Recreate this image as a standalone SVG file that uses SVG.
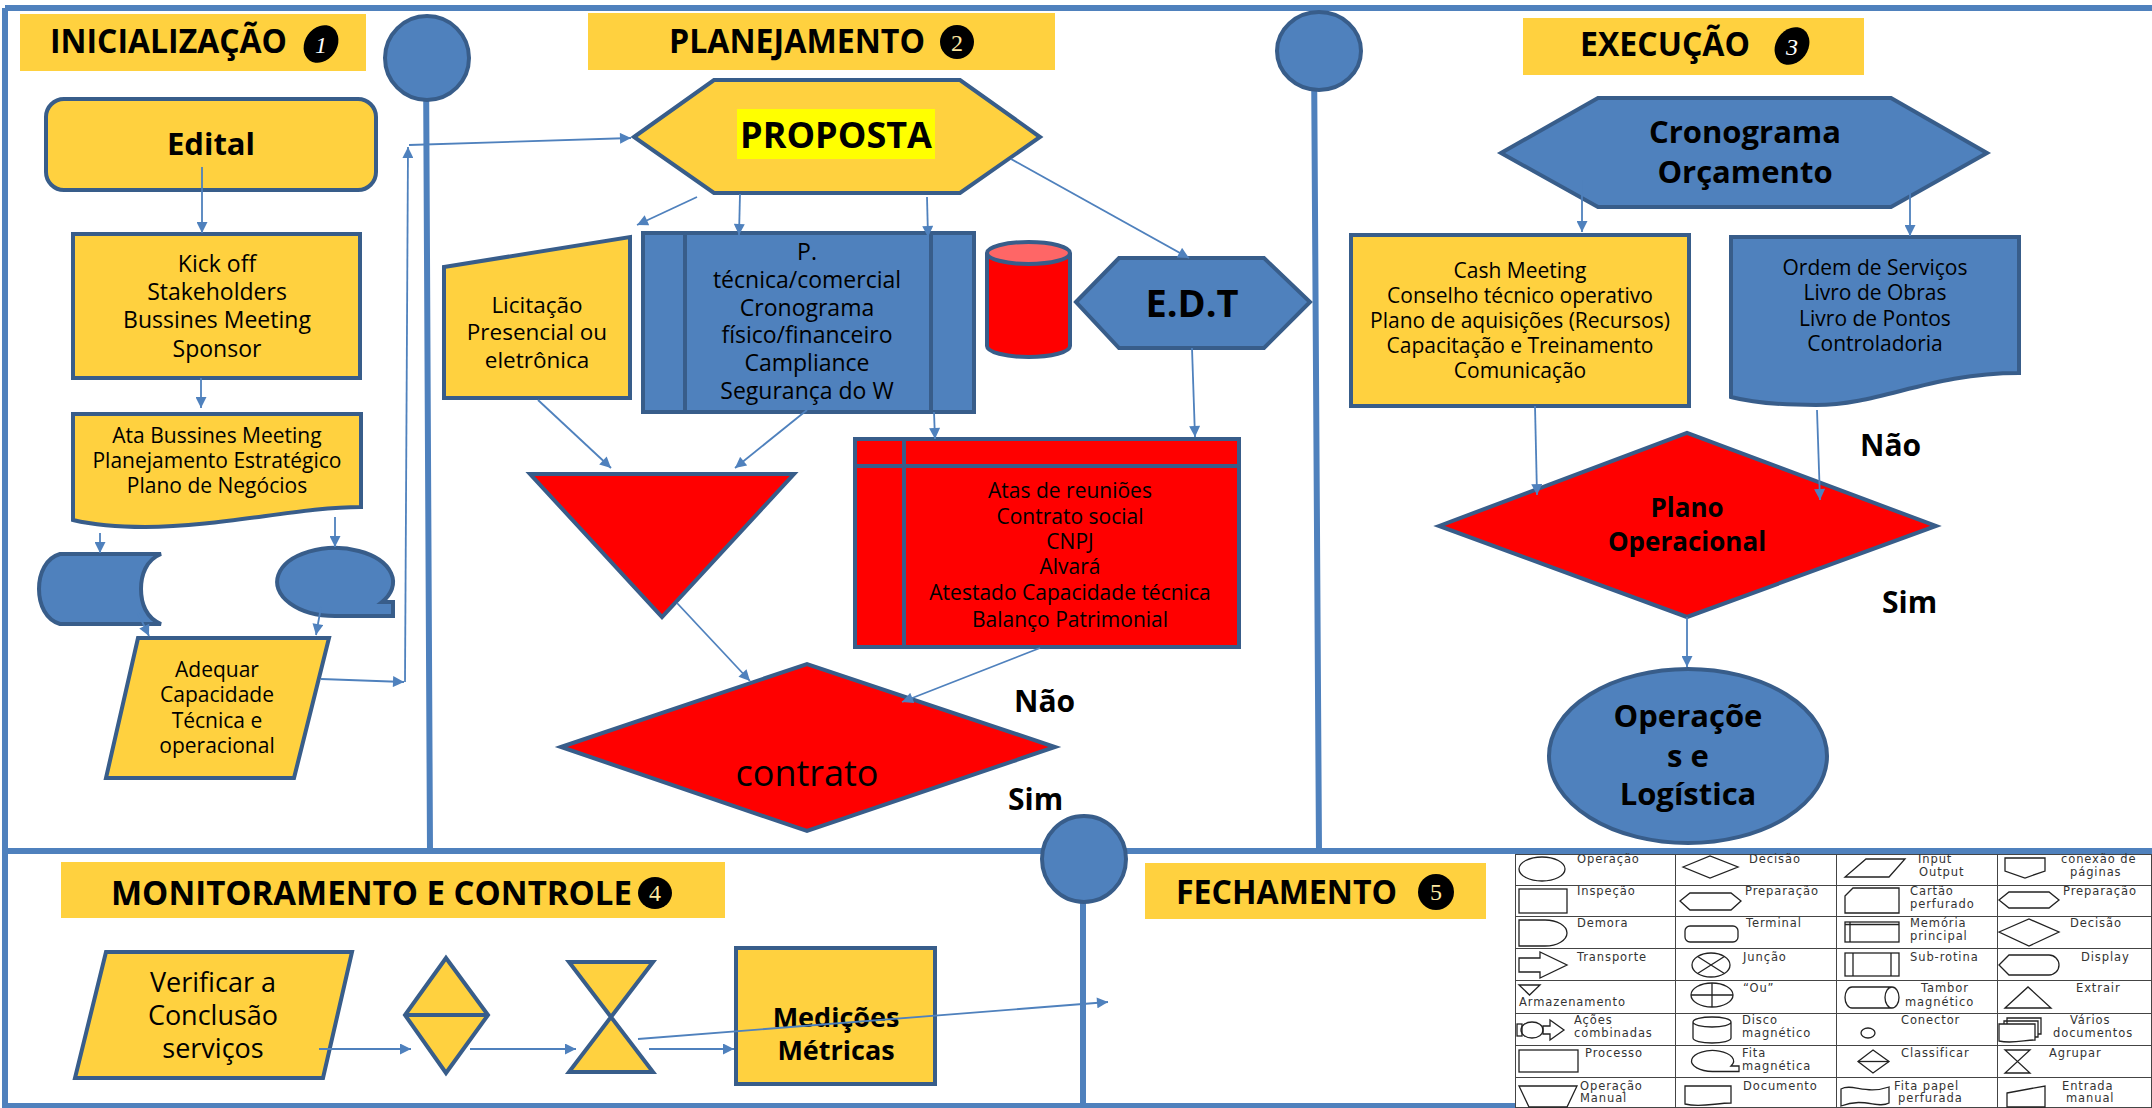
<svg xmlns="http://www.w3.org/2000/svg" width="2152" height="1108" viewBox="0 0 2152 1108">
<style>
.fr{stroke:#4F81BD;stroke-width:6;fill:none}
.cn{stroke:#4F81BD;stroke-width:1.8;fill:none;marker-end:url(#ah)}
.y{fill:#FFD13F;stroke:#385D8A;stroke-width:4}
.b{fill:#4F81BD;stroke:#385D8A;stroke-width:4}
.r{fill:#FF0000;stroke:#385D8A;stroke-width:4}
.ln{fill:none;stroke:#385D8A;stroke-width:4}
.ban{fill:#FFD13F}
.t{font-family:'Open Sans','Liberation Sans',sans-serif;fill:#000;text-anchor:middle}
.tl{font-family:'Open Sans','Liberation Sans',sans-serif;fill:#000}
.bd{font-weight:bold}
.ttl{font-family:'Open Sans','Liberation Sans',sans-serif;fill:#000;font-weight:bold;font-size:34px}
.num{font-family:'Liberation Serif',serif;text-anchor:middle;font-size:24px}
.lg text{font-family:'DejaVu Sans',sans-serif;font-size:11.5px;letter-spacing:0.9px;fill:#333}
.sym{fill:none;stroke:#222;stroke-width:1.3}
.grid{fill:none;stroke:#444;stroke-width:1}
</style>
<defs>
<marker id="ah" viewBox="0 0 10 10" refX="10" refY="5" markerWidth="12" markerHeight="11" markerUnits="userSpaceOnUse" orient="auto"><path d="M0,0 L10,5 L0,10 z" fill="#4F81BD"/></marker>
</defs>
<rect x="0" y="0" width="2152" height="1108" fill="#fff"/>

<g id="frame">
<path class="fr" d="M5,8 H2152 M5,8 V1108 M5,851 H2152 M5,1106 H1515"/>
<path class="fr" d="M426,58 L430,851 M1314,51 L1319,851 M1083,859 V1108"/>
<ellipse class="b" cx="427" cy="58" rx="42" ry="42"/>
<ellipse class="b" cx="1319" cy="51" rx="42" ry="39"/>
<ellipse class="b" cx="1084" cy="859" rx="42" ry="43"/>
</g>

<g id="banner-inicializacao">
<rect class="ban" x="20" y="14" width="346" height="57"/>
<text class="ttl" x="50" y="53" textLength="237" lengthAdjust="spacingAndGlyphs">INICIALIZAÇÃO</text>
<ellipse cx="321" cy="44" rx="16" ry="20" transform="rotate(35 321 44)" fill="#000"/>
<text class="num" x="321" y="53" fill="#fff" font-style="italic">1</text>
</g>
<g id="banner-planejamento">
<rect class="ban" x="588" y="13" width="467" height="57"/>
<text class="ttl" x="669" y="53" textLength="256" lengthAdjust="spacingAndGlyphs">PLANEJAMENTO</text>
<circle cx="957" cy="42" r="17" fill="#000"/>
<text class="num" x="957" y="51" fill="#FFE9A0">2</text>
</g>
<g id="banner-execucao">
<rect class="ban" x="1523" y="18" width="341" height="57"/>
<text class="ttl" x="1580" y="56" textLength="170" lengthAdjust="spacingAndGlyphs">EXECUÇÃO</text>
<ellipse cx="1792" cy="46" rx="16" ry="20" transform="rotate(35 1792 46)" fill="#000"/>
<text class="num" x="1792" y="55" fill="#fff" font-style="italic">3</text>
</g>
<g id="banner-monitoramento">
<rect class="ban" x="61" y="862" width="664" height="56"/>
<text class="ttl" x="111" y="905" textLength="521" lengthAdjust="spacingAndGlyphs">MONITORAMENTO E CONTROLE</text>
<ellipse cx="655" cy="893" rx="17" ry="16" fill="#000"/>
<text class="num" x="655" y="901" fill="#FFE9A0" font-size="22">4</text>
</g>
<g id="banner-fechamento">
<rect class="ban" x="1145" y="863" width="341" height="56"/>
<text class="ttl" x="1176" y="904" textLength="221" lengthAdjust="spacingAndGlyphs">FECHAMENTO</text>
<circle cx="1436" cy="892" r="18" fill="#000"/>
<text class="num" x="1436" y="900" fill="#FFE9A0" font-size="23" font-family="'Liberation Sans',sans-serif">5</text>
</g>

<g id="edital">
<rect class="y" x="46" y="99" width="330" height="91" rx="18"/>
<text class="t bd" x="211" y="155" font-size="31">Edital</text>
</g>
<g id="kickoff">
<rect class="y" x="73" y="234" width="287" height="144"/>
<text class="t" font-size="23"><tspan x="217" y="272">Kick off</tspan><tspan x="217" y="300">Stakeholders</tspan><tspan x="217" y="328">Bussines Meeting</tspan><tspan x="217" y="357">Sponsor</tspan></text>
</g>
<g id="ata">
<path class="y" d="M73,414 H361 V507 C300,507 220,527 145,527 C110,527 90,524 73,520 Z"/>
<text class="t" font-size="21"><tspan x="217" y="443">Ata Bussines Meeting</tspan><tspan x="217" y="468">Planejamento Estratégico</tspan><tspan x="217" y="493">Plano de Negócios</tspan></text>
</g>
<g id="stored-data">
<path class="b" d="M60,554 L161,554 C146,560 141,575 141,589 C141,603 146,618 161,624 L60,624 C46,620 39,605 39,589 C39,573 46,558 60,554 Z"/>
</g>
<g id="tape">
<path class="b" d="M335,616 A58,34 0 1 1 382,602 L393,602 L393,616 Z"/>
</g>
<g id="adequar">
<polygon class="y" points="138,638 329,638 294,778 106,778"/>
<text class="t" font-size="21"><tspan x="217" y="677">Adequar</tspan><tspan x="217" y="702">Capacidade</tspan><tspan x="217" y="728">Técnica e</tspan><tspan x="217" y="753">operacional</tspan></text>
</g>

<g id="proposta">
<polygon class="y" points="634,137 714,80 960,80 1040,137 960,193 714,193"/>
<rect x="737" y="109" width="198" height="50" fill="#FFFF00"/>
<text class="t bd" x="836" y="148" font-size="36">PROPOSTA</text>
</g>
<g id="licitacao">
<polygon class="y" points="444,267 630,237 630,398 444,398"/>
<text class="t" font-size="22.5"><tspan x="537" y="313">Licitação</tspan><tspan x="537" y="340">Presencial ou</tspan><tspan x="537" y="368">eletrônica</tspan></text>
</g>
<g id="subrotina">
<rect class="b" x="643" y="233" width="331" height="179"/>
<path class="ln" d="M685,233 V412 M931,233 V412"/>
<text class="t" font-size="23"><tspan x="807" y="260">P.</tspan><tspan x="807" y="288">técnica/comercial</tspan><tspan x="807" y="316">Cronograma</tspan><tspan x="807" y="343">físico/financeiro</tspan><tspan x="807" y="371">Campliance</tspan><tspan x="807" y="399">Segurança do W</tspan></text>
</g>
<g id="cilindro">
<path class="r" d="M987,253 V346 A41.5,11 0 0 0 1070,346 V253"/>
<ellipse cx="1028.5" cy="253" rx="41.5" ry="11" fill="#FF6666" stroke="#385D8A" stroke-width="4"/>
</g>
<g id="edt">
<polygon class="b" points="1076,302 1119,258 1264,258 1310,302 1264,348 1119,348"/>
<text class="t bd" x="1192" y="317" font-size="38">E.D.T</text>
</g>
<g id="triangulo">
<polygon class="r" points="530,474 794,474 662,617"/>
</g>
<g id="documentos">
<rect class="r" x="855" y="439" width="384" height="208"/>
<path class="ln" d="M855,466 H1239 M904,439 V647"/>
<text class="t" font-size="21"><tspan x="1070" y="498">Atas de reuniões</tspan><tspan x="1070" y="524">Contrato social</tspan><tspan x="1070" y="549">CNPJ</tspan><tspan x="1070" y="574">Alvará</tspan><tspan x="1070" y="600">Atestado Capacidade técnica</tspan><tspan x="1070" y="627">Balanço Patrimonial</tspan></text>
</g>
<g id="contrato">
<polygon class="r" points="561,747 807,664 1055,747 807,831"/>
<text class="t" x="807" y="786" font-size="36">contrato</text>
</g>
<g id="labels-contrato">
<text class="tl bd" x="1014" y="712" font-size="30">Não</text>
<text class="tl bd" x="1008" y="810" font-size="30">Sim</text>
</g>

<g id="cronograma">
<polygon class="b" points="1501,153 1598,98 1891,98 1987,153 1891,207 1598,207"/>
<text class="t bd" font-size="31"><tspan x="1745" y="143">Cronograma</tspan><tspan x="1745" y="183">Orçamento</tspan></text>
</g>
<g id="cash">
<rect class="y" x="1351" y="235" width="338" height="171"/>
<text class="t" font-size="21"><tspan x="1520" y="278">Cash Meeting</tspan><tspan x="1520" y="303">Conselho técnico operativo</tspan><tspan x="1520" y="328">Plano de aquisições (Recursos)</tspan><tspan x="1520" y="353">Capacitação e Treinamento</tspan><tspan x="1520" y="378">Comunicação</tspan></text>
</g>
<g id="ordem">
<path class="b" d="M1731,237 H2019 V373 C1930,373 1880,405 1816,405 C1780,405 1750,402 1731,397 Z"/>
<text class="t" font-size="21"><tspan x="1875" y="275">Ordem de Serviços</tspan><tspan x="1875" y="300">Livro de Obras</tspan><tspan x="1875" y="326">Livro de Pontos</tspan><tspan x="1875" y="351">Controladoria</tspan></text>
</g>
<g id="plano">
<polygon class="r" points="1439,526 1687,433 1936,526 1687,617"/>
<text class="t bd" font-size="26"><tspan x="1687" y="517">Plano</tspan><tspan x="1687" y="551">Operacional</tspan></text>
</g>
<g id="labels-plano">
<text class="tl bd" x="1860" y="456" font-size="30">Não</text>
<text class="tl bd" x="1882" y="613" font-size="30">Sim</text>
</g>
<g id="operacoes">
<ellipse class="b" cx="1688" cy="756" rx="139" ry="87"/>
<text class="t bd" font-size="31"><tspan x="1688" y="727">Operaçõe</tspan><tspan x="1688" y="767">s e</tspan><tspan x="1688" y="805">Logística</tspan></text>
</g>

<g id="verificar">
<polygon class="y" points="106,952 352,952 323,1078 75,1078"/>
<text class="t" font-size="27"><tspan x="213" y="992">Verificar a</tspan><tspan x="213" y="1025">Conclusão</tspan><tspan x="213" y="1058">serviços</tspan></text>
</g>
<g id="classificar">
<polygon class="y" points="446,958 488,1015 446,1073 405,1015"/>
<path class="ln" d="M405,1015 H488"/>
</g>
<g id="agrupar">
<path class="y" d="M569,962 H653 L569,1072 H653 Z"/>
</g>
<g id="medicoes">
<rect class="y" x="736" y="948" width="199" height="136"/>
<text class="t bd" font-size="27"><tspan x="836" y="1027">Medições</tspan><tspan x="836" y="1060">Métricas</tspan></text>
</g>

<g id="connectors">
<path class="cn" d="M202,167 V233"/>
<path class="cn" d="M201,378 V408"/>
<path class="cn" d="M100,533 V553"/>
<path class="cn" d="M335,517 V547"/>
<path class="cn" d="M138,613 L149,636"/>
<path class="cn" d="M321,607 L316,635"/>
<path class="cn" d="M321,679 L404,682"/>
<path class="cn" d="M405,682 L408,147"/>
<path class="cn" d="M409,145 L631,138"/>
<path class="cn" d="M697,197 L637,225"/>
<path class="cn" d="M740,194 L739,235"/>
<path class="cn" d="M927,197 L928,237"/>
<path class="cn" d="M1011,159 L1189,258"/>
<path class="cn" d="M538,400 L611,468"/>
<path class="cn" d="M807,410 L735,468"/>
<path class="cn" d="M934,412 L935,439"/>
<path class="cn" d="M1192,348 L1195,437"/>
<path class="cn" d="M677,603 L750,681"/>
<path class="cn" d="M1040,648 L902,702"/>
<path class="cn" d="M1582,180 V232"/>
<path class="cn" d="M1910,190 V236"/>
<path class="cn" d="M1535,406 L1537,495"/>
<path class="cn" d="M1817,410 L1820,500"/>
<path class="cn" d="M1687,617 V667"/>
<path class="cn" d="M319,1049 H411"/>
<path class="cn" d="M470,1049 H576"/>
<path class="cn" d="M649,1049 H734"/>
<path class="cn" d="M638,1039 L1108,1002"/>
</g>

<g id="legenda" class="lg">
<rect x="1515" y="854" width="637" height="254" fill="#fff"/>
<path class="grid" d="M1515.5,854 V1108 M1675.5,854 V1108 M1836.5,854 V1108 M1997.5,854 V1108 M2151.5,854 V1108 M1515,854.5 H2152 M1515,885.5 H2152 M1515,916.5 H2152 M1515,948.5 H2152 M1515,980.5 H2152 M1515,1013.5 H2152 M1515,1045.5 H2152 M1515,1077.5 H2152 M1515,1107.5 H2152"/>
<g class="sym">
<ellipse cx="1542" cy="869" rx="23" ry="12"/>
<polygon points="1683,867 1710,856 1738,867 1710,878"/>
<polygon points="1866,859 1905,859 1889,877 1845,877"/>
<polygon points="2005,858 2045,858 2045,871 2025,878 2005,871"/>
<rect x="1519" y="889" width="48" height="24"/>
<polygon points="1680,901 1690,893 1731,893 1741,901 1731,910 1690,910"/>
<polygon points="1845,896 1853,888 1899,888 1899,913 1845,913"/>
<polygon points="1999,900 2009,892 2049,892 2059,900 2049,908 2009,908"/>
<path d="M1519,920 H1545 A22,13 0 0 1 1545,946 H1519 Z"/>
<rect x="1685" y="926" width="53" height="16" rx="5"/>
<rect x="1845" y="922" width="54" height="20"/>
<path d="M1850,922 V942 M1845,924.5 H1899"/>
<polygon points="1999,932 2029,919 2059,932 2029,946"/>
<polygon points="1519,958 1540,958 1540,952 1567,965 1540,978 1540,972 1519,972"/>
<ellipse cx="1711" cy="965" rx="19" ry="12"/>
<path d="M1697.6,956.5 L1724.4,973.5 M1724.4,956.5 L1697.6,973.5"/>
<rect x="1845" y="953" width="54" height="23"/>
<path d="M1853,953 V976 M1891,953 V976"/>
<path d="M1999,965 L2009,955 H2049 A10,10 0 0 1 2049,975 H2009 Z"/>
<polygon points="1519,985 1540,985 1529.5,995"/>
<ellipse cx="1712" cy="995" rx="21" ry="12"/>
<path d="M1691,995 H1733 M1712,983 V1007"/>
<path d="M1852,987 H1892 A7,10.5 0 0 1 1892,1008 H1852 A7,10.5 0 0 1 1852,987 Z M1892,987 A7,10.5 0 0 0 1892,1008"/>
<polygon points="2005,1008 2028,987 2051,1008"/>
<rect x="1517" y="1024" width="5" height="12"/>
<ellipse cx="1532" cy="1030" rx="11" ry="8"/>
<polygon points="1543,1026 1550,1026 1550,1020 1564,1030 1550,1040 1550,1034 1543,1034"/>
<path d="M1693,1022 V1038 A19,5 0 0 0 1731,1038 V1022 A19,5 0 0 0 1693,1022 A19,5 0 0 0 1731,1022"/>
<ellipse cx="1868" cy="1033" rx="7" ry="5"/>
<path d="M2007,1024 V1018 H2041 V1034 H2038 M2004,1024 V1021 H2038 V1037 H2035"/>
<path d="M1999,1024 H2035 V1040 C2025,1040 2012,1044 1999,1041 Z"/>
<rect x="1519" y="1050" width="59" height="22"/>
<path d="M1713,1071.5 A21,10.5 0 1 1 1731,1066 L1739,1066 L1739,1071.5 Z"/>
<polygon points="1873,1050 1889,1061.5 1873,1073 1858,1061.5"/>
<path d="M1858,1061.5 H1889"/>
<path d="M2005,1050 H2030 L2005,1073 H2030 Z"/>
<polygon points="1519,1086 1577,1086 1567,1107 1529,1107"/>
<path d="M1685,1086 H1731 V1103 C1716,1103 1700,1108 1685,1104 Z"/>
<path d="M1841,1089 C1852,1083 1866,1095 1889,1087 V1103 C1878,1109 1864,1097 1841,1106 Z"/>
<polygon points="2007,1093 2045,1086 2045,1107 2007,1107"/>
</g>
<text x="1577" y="863">Operação</text>
<text x="1749" y="863">Decisão</text>
<text x="1918" y="863">Input</text>
<text x="1919" y="876">Output</text>
<text x="2061" y="863">conexão de</text>
<text x="2070" y="876">páginas</text>
<text x="1577" y="895">Inspeção</text>
<text x="1745" y="895">Preparação</text>
<text x="1910" y="895">Cartão</text>
<text x="1910" y="908">perfurado</text>
<text x="2063" y="895">Preparação</text>
<text x="1577" y="927">Demora</text>
<text x="1746" y="927">Terminal</text>
<text x="1910" y="927">Memória</text>
<text x="1910" y="940">principal</text>
<text x="2070" y="927">Decisão</text>
<text x="1577" y="961">Transporte</text>
<text x="1743" y="961">Junção</text>
<text x="1910" y="961">Sub-rotina</text>
<text x="2081" y="961">Display</text>
<text x="1519" y="1006">Armazenamento</text>
<text x="1743" y="992">“Ou”</text>
<text x="1921" y="992">Tambor</text>
<text x="1905" y="1006">magnético</text>
<text x="2076" y="992">Extrair</text>
<text x="1574" y="1024">Ações</text>
<text x="1574" y="1037">combinadas</text>
<text x="1742" y="1024">Disco</text>
<text x="1742" y="1037">magnético</text>
<text x="1901" y="1024">Conector</text>
<text x="2070" y="1024">Vários</text>
<text x="2053" y="1037">documentos</text>
<text x="1585" y="1057">Processo</text>
<text x="1742" y="1057">Fita</text>
<text x="1742" y="1070">magnética</text>
<text x="1901" y="1057">Classificar</text>
<text x="2049" y="1057">Agrupar</text>
<text x="1580" y="1090">Operação</text>
<text x="1580" y="1102">Manual</text>
<text x="1743" y="1090">Documento</text>
<text x="1894" y="1090">Fita papel</text>
<text x="1898" y="1102">perfurada</text>
<text x="2062" y="1090">Entrada</text>
<text x="2066" y="1102">manual</text>
</g>
</svg>
